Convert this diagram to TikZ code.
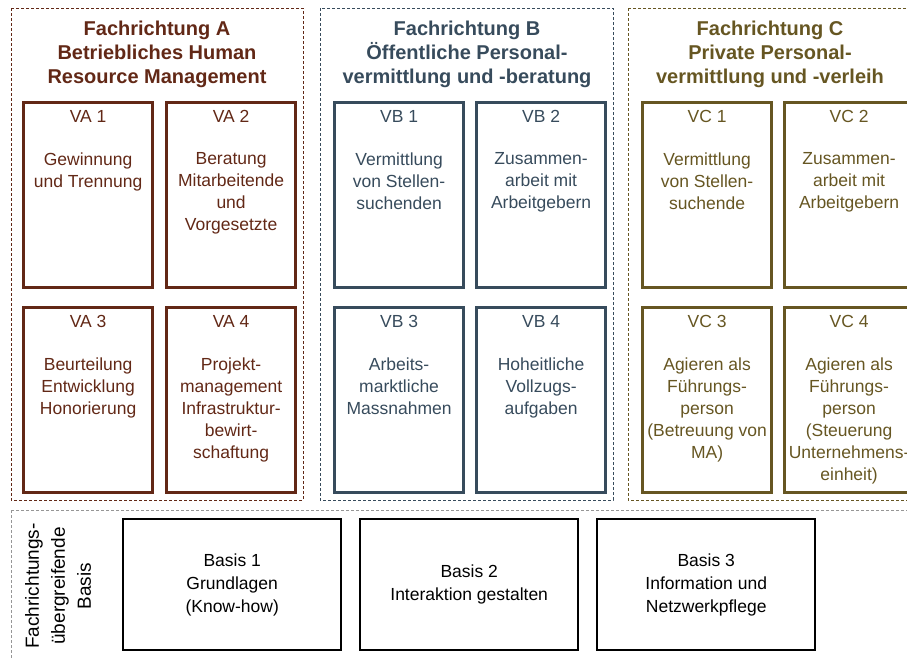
\documentclass[tikz,border=0pt]{standalone}
\usepackage{fontspec}
\setmainfont{Liberation Sans}
\usepackage{tikz}
\usetikzlibrary{positioning}

\definecolor{colA}{RGB}{98,40,22}
\definecolor{colB}{RGB}{55,75,92}
\definecolor{colC}{RGB}{102,86,34}
\definecolor{colBasis}{RGB}{150,150,150}

\tikzset{
  gruppe/.style={draw=#1, dashed, line width=0.9pt, dash pattern=on 3pt off 2pt},
  gtitel/.style={text=#1, font=\fontsize{20}{24}\selectfont\bfseries, align=center, anchor=north},
  modul/.style={draw=#1, line width=3.2pt, minimum width=129pt, minimum height=185pt, anchor=north west},
  mkopf/.style={text=#1, font=\fontsize{17.5}{22}\selectfont, anchor=center},
  mtext/.style={text=#1, font=\fontsize{17.5}{22}\selectfont, align=center, anchor=north},
  basis/.style={draw=black, line width=2.4pt, minimum width=218pt, minimum height=131pt,
    font=\fontsize{17.5}{23}\selectfont, align=center, anchor=north west},
}

\begin{document}
\begin{tikzpicture}[x=1pt,y=-1pt]
  \useasboundingbox (0,0) rectangle (907,659);

  % Fachrichtungen
  \draw[gruppe=colA] (11,8) rectangle (303,500);
  \draw[gruppe=colB] (320,8) rectangle (613,500);
  \draw[gruppe=colC] (628,8) rectangle (925,500);

  \node[gtitel=colA] (ta) at (157,17) {Fachrichtung A\\Betriebliches Human\\Resource Management};
  \node[gtitel=colB] (tb) at (467,17) {Fachrichtung B\\Öffentliche Personal-\\vermittlung und -beratung};
  \node[gtitel=colC] (tc) at (770,17) {Fachrichtung C\\Private Personal-\\vermittlung und -verleih};

  % Module A
  \node[modul=colA] (va1) at (22,101) {};
  \node[modul=colA] (va2) at (165,101) {};
  \node[modul=colA] (va3) at (22,306) {};
  \node[modul=colA] (va4) at (165,306) {};
  \node[mkopf=colA] (kva1) at ([yshift=-15]va1.north) {VA 1};
  \node[mkopf=colA] (kva2) at ([yshift=-15]va2.north) {VA 2};
  \node[mkopf=colA] (kva3) at ([yshift=-15]va3.north) {VA 3};
  \node[mkopf=colA] (kva4) at ([yshift=-15]va4.north) {VA 4};
  \node[mtext=colA] (xva1) at ([yshift=-48]va1.north) {Gewinnung\\und Trennung};
  \node[mtext=colA] (xva2) at ([yshift=-48]va2.north) {Beratung\\Mitarbeitende\\und\\Vorgesetzte};
  \node[mtext=colA] (xva3) at ([yshift=-48]va3.north) {Beurteilung\\Entwicklung\\Honorierung};
  \node[mtext=colA] (xva4) at ([yshift=-48]va4.north) {Projekt-\\management\\Infrastruktur-\\bewirt-\\schaftung};

  % Module B
  \node[modul=colB] (vb1) at (333,101) {};
  \node[modul=colB] (vb2) at (475,101) {};
  \node[modul=colB] (vb3) at (333,306) {};
  \node[modul=colB] (vb4) at (475,306) {};
  \node[mkopf=colB] (kvb1) at ([yshift=-15]vb1.north) {VB 1};
  \node[mkopf=colB] (kvb2) at ([yshift=-15]vb2.north) {VB 2};
  \node[mkopf=colB] (kvb3) at ([yshift=-15]vb3.north) {VB 3};
  \node[mkopf=colB] (kvb4) at ([yshift=-15]vb4.north) {VB 4};
  \node[mtext=colB] (xvb1) at ([yshift=-48]vb1.north) {Vermittlung\\von Stellen-\\suchenden};
  \node[mtext=colB] (xvb2) at ([yshift=-48]vb2.north) {Zusammen-\\arbeit mit\\Arbeitgebern};
  \node[mtext=colB] (xvb3) at ([yshift=-48]vb3.north) {Arbeits-\\marktliche\\Massnahmen};
  \node[mtext=colB] (xvb4) at ([yshift=-48]vb4.north) {Hoheitliche\\Vollzugs-\\aufgaben};

  % Module C
  \node[modul=colC] (vc1) at (641,101) {};
  \node[modul=colC] (vc2) at (783,101) {};
  \node[modul=colC] (vc3) at (641,306) {};
  \node[modul=colC] (vc4) at (783,306) {};
  \node[mkopf=colC] (kvc1) at ([yshift=-15]vc1.north) {VC 1};
  \node[mkopf=colC] (kvc2) at ([yshift=-15]vc2.north) {VC 2};
  \node[mkopf=colC] (kvc3) at ([yshift=-15]vc3.north) {VC 3};
  \node[mkopf=colC] (kvc4) at ([yshift=-15]vc4.north) {VC 4};
  \node[mtext=colC] (xvc1) at ([yshift=-48]vc1.north) {Vermittlung\\von Stellen-\\suchende};
  \node[mtext=colC] (xvc2) at ([yshift=-48]vc2.north) {Zusammen-\\arbeit mit\\Arbeitgebern};
  \node[mtext=colC] (xvc3) at ([yshift=-48]vc3.north) {Agieren als\\Führungs-\\person\\(Betreuung von\\MA)};
  \node[mtext=colC] (xvc4) at ([yshift=-48]vc4.north) {Agieren als\\Führungs-\\person\\(Steuerung\\Unternehmens-\\einheit)};

  % Basis
  \draw[draw=colBasis, dashed, line width=0.9pt, dash pattern=on 3pt off 2pt] (11,510) rectangle (925,670);
  \node[rotate=90, font=\fontsize{19}{26}\selectfont, align=center] (tbasis) at (58,586) {Fachrichtungs-\\übergreifende\\Basis};
  \node[basis] (b1) at (122,518) {Basis 1\\Grundlagen\\(Know-how)};
  \node[basis] (b2) at (359,518) {Basis 2\\Interaktion gestalten};
  \node[basis] (b3) at (596,518) {Basis 3\\Information und\\Netzwerkpflege};
\end{tikzpicture}
\end{document}
